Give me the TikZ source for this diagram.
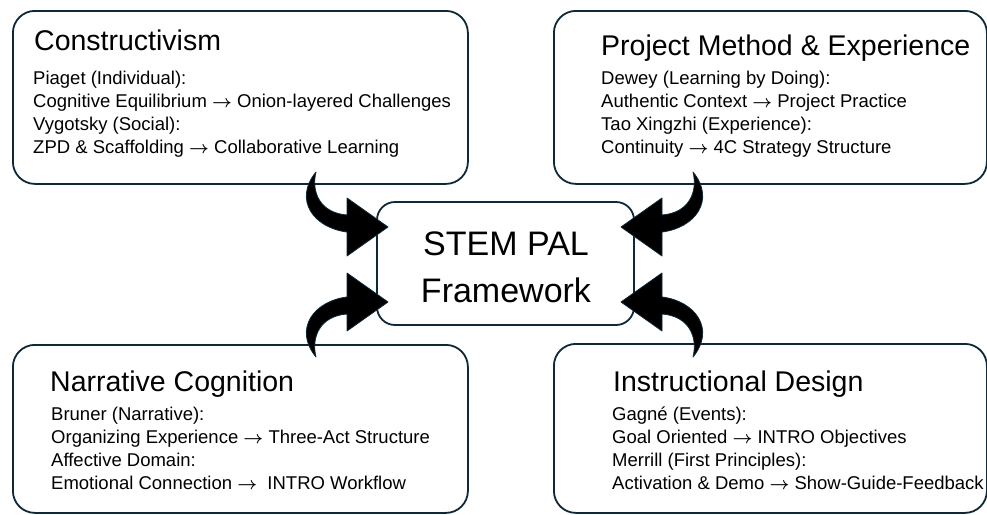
\documentclass[tikz,border=0pt]{standalone}
\usepackage{fontspec}
\setmainfont{Liberation Sans}
\newcommand{\rarr}{{\boldmath$\rightarrow$}}
\definecolor{framecol}{RGB}{14,40,56}
\tikzset{
  frame/.style={draw=framecol, line width=1.8pt, rounded corners=22pt, fill=white, inner sep=0pt, anchor=north west},
  hub/.style={draw=framecol, line width=1.8pt, rounded corners=18pt, fill=white, inner sep=0pt},
  ttl/.style={font=\fontsize{28.5}{34}\selectfont, inner sep=0pt, anchor=base west},
  body/.style={font=\fontsize{18.5}{23}\selectfont, inner sep=0pt, anchor=base west},
  hubtext/.style={font=\fontsize{34}{40}\selectfont, inner sep=0pt, anchor=base},
  blockarrow/.style={fill=black, draw=framecol, line width=0.8pt, line join=round}
}
\newcommand{\curvedarrow}{%
  (316,172) .. controls (311,192) and (320,213) .. (347,215)
  -- (347,198) -- (388,227) -- (347,256) -- (347,232)
  .. controls (314,228) and (293,200) .. (316,172) -- cycle}
\begin{document}
\begin{tikzpicture}[x=1pt,y=-1pt]
\useasboundingbox (0,0) rectangle (987,514);
% boxes
\node[frame, minimum width=455pt, minimum height=173pt] (c1) at (12,10) {};
\node[frame, minimum width=433pt, minimum height=173pt] (c2) at (553,10) {};
\node[frame, minimum width=455pt, minimum height=168pt] (c3) at (12,344) {};
\node[frame, minimum width=433pt, minimum height=169pt] (c4) at (553,343) {};
\node[hub, minimum width=257pt, minimum height=123pt] (hub) at (505.5,263.5) {};
% hub text
\node[hubtext] (h1) at (506,255) {STEM PAL};
\node[hubtext] (h2) at (506,302) {Framework};
% titles
\node[ttl] (t1) at (34,50) {Constructivism};
\node[ttl] (t2) at (601,55) {Project Method \& Experience};
\node[ttl] (t3) at (50,391) {Narrative Cognition};
\node[ttl] (t4) at (613,391) {Instructional Design};
% body texts
\foreach \t [count=\i] in {Piaget (Individual):, Cognitive Equilibrium \rarr{} Onion-layered Challenges, Vygotsky (Social):, ZPD \& Scaffolding \rarr{} Collaborative Learning}
  \node[body] (a\i) at (33,{84+23.2*(\i-1)}) {\t};
\foreach \t [count=\i] in {Dewey (Learning by Doing):, Authentic Context \rarr{} Project Practice, Tao Xingzhi (Experience):, Continuity \rarr{} 4C Strategy Structure}
  \node[body] (b\i) at (601,{84+23.2*(\i-1)}) {\t};
\foreach \t [count=\i] in {Bruner (Narrative):, Organizing Experience \rarr{} Three-Act Structure, Affective Domain:, Emotional Connection \rarr{}\ \ INTRO Workflow}
  \node[body] (n\i) at (51,{420+23.2*(\i-1)}) {\t};
\foreach \t [count=\i] in {Gagné (Events):, Goal Oriented \rarr{} INTRO Objectives, Merrill (First Principles):, Activation \& Demo \rarr{} Show-Guide-Feedback}
  \node[body] (d\i) at (612,{420+23.2*(\i-1)}) {\t};
% curved block arrows
\draw[blockarrow] \curvedarrow;
\begin{scope}[xshift=1009pt, xscale=-1]
  \draw[blockarrow] \curvedarrow;
\end{scope}
\begin{scope}[yshift=-529pt, yscale=-1]
  \draw[blockarrow] \curvedarrow;
\end{scope}
\begin{scope}[xshift=1009pt, yshift=-529pt, xscale=-1, yscale=-1]
  \draw[blockarrow] \curvedarrow;
\end{scope}
\end{tikzpicture}
\end{document}
